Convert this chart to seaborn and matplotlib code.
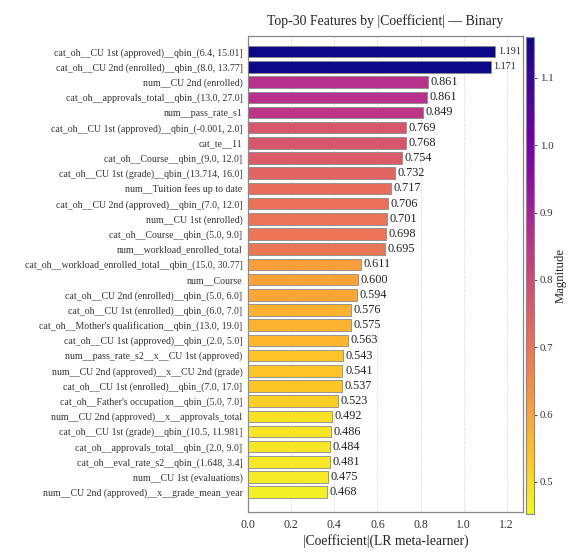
import numpy as np
import pandas as pd
import matplotlib
matplotlib.use("Agg")
import matplotlib.pyplot as plt
import seaborn as sns

features = [
    "cat_oh__CU 1st (approved)__qbin_(6.4, 15.01]",
    "cat_oh__CU 2nd (enrolled)__qbin_(8.0, 13.77]",
    "num__CU 2nd (enrolled)",
    "cat_oh__approvals_total__qbin_(13.0, 27.0]",
    "num__pass_rate_s1",
    "cat_oh__CU 1st (approved)__qbin_(-0.001, 2.0]",
    "cat_te__11",
    "cat_oh__Course__qbin_(9.0, 12.0]",
    "cat_oh__CU 1st (grade)__qbin_(13.714, 16.0]",
    "num__Tuition fees up to date",
    "cat_oh__CU 2nd (approved)__qbin_(7.0, 12.0]",
    "num__CU 1st (enrolled)",
    "cat_oh__Course__qbin_(5.0, 9.0]",
    "num__workload_enrolled_total",
    "cat_oh__workload_enrolled_total__qbin_(15.0, 30.77]",
    "num__Course",
    "cat_oh__CU 2nd (enrolled)__qbin_(5.0, 6.0]",
    "cat_oh__CU 1st (enrolled)__qbin_(6.0, 7.0]",
    "cat_oh__Mother's qualification__qbin_(13.0, 19.0]",
    "cat_oh__CU 1st (approved)__qbin_(2.0, 5.0]",
    "num__pass_rate_s2__x__CU 1st (approved)",
    "num__CU 2nd (approved)__x__CU 2nd (grade)",
    "cat_oh__CU 1st (enrolled)__qbin_(7.0, 17.0]",
    "cat_oh__Father's occupation__qbin_(5.0, 7.0]",
    "num__CU 2nd (approved)__x__approvals_total",
    "cat_oh__CU 1st (grade)__qbin_(10.5, 11.981]",
    "cat_oh__approvals_total__qbin_(2.0, 9.0]",
    "cat_oh__eval_rate_s2__qbin_(1.648, 3.4]",
    "num__CU 1st (evaluations)",
    "num__CU 2nd (approved)__x__grade_mean_year",
]

# annotated coefficient magnitudes (text labels)
coef_labels = [1.191, 1.171, 0.861, 0.861, 0.849, 0.769, 0.768, 0.754, 0.732, 0.717,
               0.706, 0.701, 0.698, 0.695, 0.611, 0.600, 0.594, 0.576, 0.575, 0.563,
               0.543, 0.541, 0.537, 0.523, 0.492, 0.486, 0.484, 0.481, 0.475, 0.468]

# bar lengths as drawn in the picture
bar_lengths = [1.147, 1.126, 0.833, 0.831, 0.813, 0.731, 0.731, 0.712, 0.683, 0.663,
               0.649, 0.643, 0.638, 0.635, 0.523, 0.511, 0.503, 0.478, 0.477, 0.463,
               0.441, 0.438, 0.434, 0.418, 0.389, 0.383, 0.381, 0.379, 0.372, 0.364]

cbar_range = [0.452, 1.161]
x_ticks = [0.0, 0.2, 0.4, 0.6, 0.8, 1.0, 1.2]
cbar_ticks = [0.5, 0.6, 0.7, 0.8, 0.9, 1.0, 1.1]

sns.set_style("white")
plt.rcParams['font.family'] = ['Liberation Serif', 'DejaVu Serif']

df = pd.DataFrame({"feature": features, "bar": bar_lengths, "label": coef_labels})

cmap = plt.get_cmap("plasma_r")
norm = matplotlib.colors.Normalize(vmin=cbar_range[0], vmax=cbar_range[1])
colors = [cmap(norm(v)) for v in coef_labels]

fig = plt.figure(figsize=(5.69, 5.55), dpi=100)
ax = fig.add_axes([0.436, 0.078, 0.4826, 0.857])
cax = fig.add_axes([0.924, 0.0734, 0.0146, 0.8603])

sns.barplot(data=df, x="bar", y="feature", hue="feature", palette=colors,
            saturation=1, dodge=False, legend=False, orient="h", width=0.76,
            edgecolor="#8a8a8a", linewidth=0.6, ax=ax, zorder=3)

for i, (b, lab) in enumerate(zip(bar_lengths, coef_labels)):
    fs = 7.2 if lab > 1.0 else 8.8
    ax.text(b + 0.012, i, f"{lab:.3f}", va="center", ha="left", fontsize=fs, color="#222222")

ax.set_xlim(0, 1.274)
ax.set_ylim(len(features) - 1 + 1.28, -1.03)
ax.set_xticks(x_ticks)
ax.set_xticklabels([f"{t:.1f}" for t in x_ticks], fontsize=8.5, color="#333333")
ax.tick_params(axis="y", labelsize=7.1, length=2.5, width=0.6, colors="#333333", pad=1.5)
ax.tick_params(axis="x", length=2.5, width=0.6, colors="#333333", pad=3)
ax.set_ylabel("")
ax.set_xlabel("|Coefficient|(LR meta-learner)", fontsize=9.8, color="#222222", labelpad=2)
ax.set_title("Top-30 Features by |Coefficient| \u2014 Binary", fontsize=9.9, color="#222222", pad=8)
ax.grid(axis="x", linestyle=":", color="#cccccc", linewidth=0.7, zorder=0)
ax.set_axisbelow(True)
for sp in ax.spines.values():
    sp.set_color("#888888")
    sp.set_linewidth(0.9)

sm = matplotlib.cm.ScalarMappable(norm=norm, cmap=cmap)
cb = fig.colorbar(sm, cax=cax)
cb.set_ticks(cbar_ticks)
cb.ax.tick_params(labelsize=7.8, length=2.5, width=0.6, colors="#333333", pad=1.5)
cb.set_label("Magnitude", fontsize=9.2, color="#222222", labelpad=1)
cb.outline.set_edgecolor("#888888")
cb.outline.set_linewidth(0.8)

fig.savefig("out.png", dpi=100)
